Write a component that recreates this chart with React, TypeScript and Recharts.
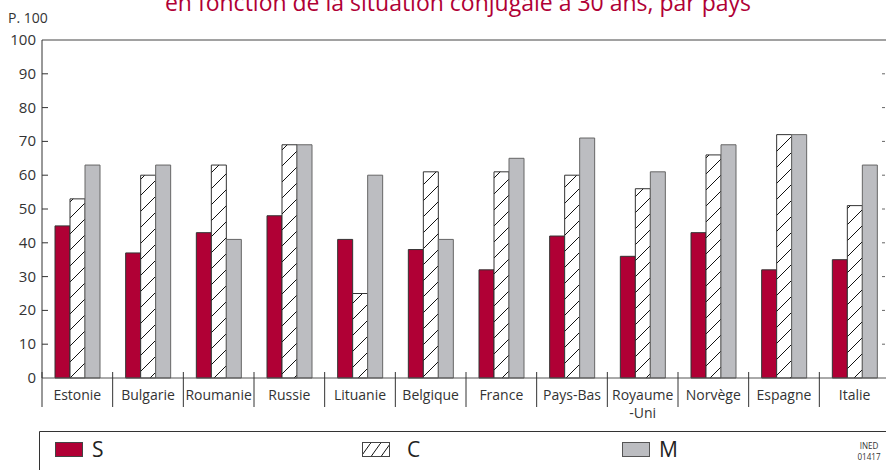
import React from 'react';
import { BarChart, Bar, XAxis, YAxis, ReferenceLine } from 'recharts';

const categories = ['Estonie', 'Bulgarie', 'Roumanie', 'Russie', 'Lituanie', 'Belgique', 'France', 'Pays-Bas', 'Royaume\n-Uni', 'Norvège', 'Espagne', 'Italie'];
const sValues = [45, 37, 43, 48, 41, 38, 32, 42, 36, 43, 32, 35];
const cValues = [53, 60, 63, 69, 25, 61, 61, 60, 56, 66, 72, 51];
const mValues = [63, 63, 41, 69, 60, 41, 65, 71, 61, 69, 72, 63];
const yTicks = [0, 10, 20, 30, 40, 50, 60, 70, 80, 90, 100];

const data = categories.map((c, i) => ({ cat: c, S: sValues[i], C: cValues[i], M: mValues[i] }));

const FONT = '"Open Sans", "Noto Sans", sans-serif';
const CRIMSON = '#B00035';
const GREY = '#BCBDC1';
const CHART_W = 886;
const RIGHT_M = -4;
const Y_W = 42;
const PLOT_W = CHART_W - RIGHT_M - Y_W;
const BAND = PLOT_W / categories.length;

const YTick = (props: any) => {
  const { x, y, payload } = props;
  const v = payload.value;
  return (
    <g>
      <text x={x} y={y} dy={5} textAnchor="end" fontSize={15} fill="#333" fontFamily={FONT}>{v}</text>
      {v > 0 && v < 100 && <line x1={x + 6} x2={x + 12} y1={y} y2={y} stroke="#333" strokeWidth={1} />}
      {v > 0 && v < 100 && <line x1={x + 846} x2={x + 849} y1={y} y2={y} stroke="#666" strokeWidth={1} />}
    </g>
  );
};

const XTick = (props: any) => {
  const { x, y, payload } = props;
  const lines = String(payload.value).split('\n');
  const left = x - BAND / 2;
  return (
    <g>
      <line x1={left} x2={left} y1={y - 6} y2={y + 29} stroke="#333" strokeWidth={1} />
      {lines.map((l, i) => (
        <text key={i} x={x} y={y + 22 + i * 18} textAnchor="middle" fontSize={14} fill="#333" fontFamily={FONT}>{l}</text>
      ))}
    </g>
  );
};

export default function App() {
  return (
    <div style={{ position: 'absolute', left: 0, top: 0, width: 886, height: 470, background: '#fff', fontFamily: FONT }}>
      <BarChart width={CHART_W} height={470} data={data} margin={{ top: 40, right: RIGHT_M, left: 0, bottom: 62 }} barGap={0} barSize={15}>
        <defs>
          <pattern id="hatch" patternUnits="userSpaceOnUse" width="16" height="16">
            <rect x="0" y="0" width="16" height="16" fill="#fff" />
            <path d="M0,16 L16,0 M-4,4 L4,-4 M12,20 L20,12" stroke="#111" strokeWidth={1} />
          </pattern>
        </defs>
        <text x={458} y={11} textAnchor="middle" fontSize={23} fill={CRIMSON} fontFamily={FONT}>en fonction de la situation conjugale à 30 ans, par pays</text>
        <text x={8} y={23} fontSize={14} fill="#333" fontFamily={FONT}>P. 100</text>
        <XAxis dataKey="cat" height={30} tickLine={false} tickSize={0} tickMargin={0} axisLine={{ stroke: '#555' }} tick={<XTick />} interval={0} />
        <YAxis width={Y_W} domain={[0, 100]} ticks={yTicks} tickLine={false} tickSize={0} tickMargin={6} axisLine={{ stroke: '#333' }} tick={<YTick />} interval={0} />
        <ReferenceLine y={100} stroke="#444" strokeWidth={1} ifOverflow="visible" />
        <Bar dataKey="S" fill={CRIMSON} stroke="#333" strokeWidth={1} isAnimationActive={false} />
        <Bar dataKey="C" fill="url(#hatch)" stroke="#333" strokeWidth={1} isAnimationActive={false} />
        <Bar dataKey="M" fill={GREY} stroke="#666" strokeWidth={1} isAnimationActive={false} />
      </BarChart>
      <svg style={{ position: 'absolute', left: 0, top: 430 }} width={886} height={40}>
        <defs>
          <pattern id="hatchL" patternUnits="userSpaceOnUse" width="10" height="14">
            <rect x="0" y="0" width="10" height="14" fill="#fff" />
            <path d="M0,14 L10,0" stroke="#111" strokeWidth={1} />
          </pattern>
        </defs>
        <path d="M39.5,40 L39.5,1.5 L886,1.5" fill="none" stroke="#333" strokeWidth={1} />
        <rect x={55.5} y={12.5} width={27} height={14} fill={CRIMSON} stroke="#444" />
        <text x={92} y={27} fontSize={21} fill="#222" fontFamily={FONT}>S</text>
        <rect x={362.5} y={12.5} width={27} height={14} fill="url(#hatchL)" stroke="#444" />
        <text x={407} y={27} fontSize={21} fill="#222" fontFamily={FONT}>C</text>
        <rect x={622.5} y={12.5} width={27} height={14} fill={GREY} stroke="#555" />
        <text x={659} y={27} fontSize={21} fill="#222" fontFamily={FONT}>M</text>
        <text x={869} y={19} fontSize={9.5} textAnchor="middle" fill="#333" fontFamily={FONT} transform="translate(869,0) scale(0.85,1) translate(-869,0)">INED</text>
        <text x={869} y={30.5} fontSize={9.5} textAnchor="middle" fill="#333" fontFamily={FONT} transform="translate(869,0) scale(0.85,1) translate(-869,0)">01417</text>
      </svg>
    </div>
  );
}
